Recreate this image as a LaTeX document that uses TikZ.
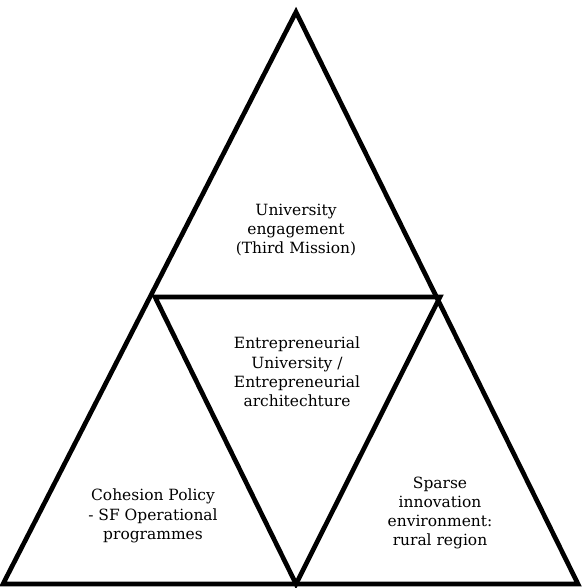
\documentclass[tikz,border=0pt]{standalone}
\usepackage{fontspec}
\setmainfont{DejaVu Serif}
\usepackage{tikz}
\usepackage{xcolor}
\usetikzlibrary{positioning, calc}
\tikzset{
    % Triangle outline style
    triangleline/.style={
        draw=black,
        line width=3.5pt,
        line join=miter
    },
    % Text inside the triangles
    labeltext/.style={
        align=center,
        font=\fontsize{11.6}{14.4}\selectfont,
        inner sep=0pt
    }
}
\begin{document}
\begin{tikzpicture}[x=0.75pt, y=-0.75pt]
                \useasboundingbox (0,0) rectangle (581,588);

                % Corner points
                \coordinate (apex) at (296,12);
                \coordinate (bl) at (3,584);
                \coordinate (br) at (578,584);
                \coordinate (ml) at (155,297);
                \coordinate (mr) at (440,297);
                \coordinate (bm) at (296,584);

                % Outer triangle and inner inverted triangle
                \draw[triangleline] (apex) -- (bl) -- (br) -- cycle;
                \draw[triangleline] (ml) -- (mr) -- (bm) -- cycle;

                % Labels
                \node[labeltext] (top) at (296,230) {University\\engagement\\(Third Mission)};
                \node[labeltext] (mid) at (297,372) {Entrepreneurial\\University /\\Entrepreneurial\\architechture};
                \node[labeltext] (left) at (153,516) {Cohesion Policy\\- SF Operational\\programmes};
                \node[labeltext] (right) at (440,513) {Sparse\\innovation\\environment:\\rural region};
            \end{tikzpicture}
\end{document}
